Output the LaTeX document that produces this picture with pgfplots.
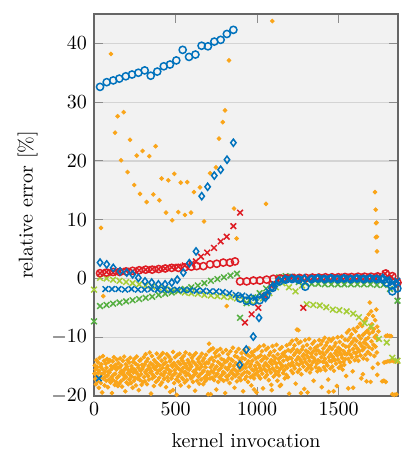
\documentclass[border=0pt]{standalone}
\usepackage{pgfplots}
\pgfplotsset{compat=1.18}

\definecolor{cblue}{RGB}{0,114,189}
\definecolor{cred}{RGB}{222,28,36}
\definecolor{corange}{RGB}{250,165,25}
\definecolor{cgreen}{RGB}{85,175,65}
\definecolor{cyg}{RGB}{165,205,55}
\definecolor{bgc}{RGB}{242,242,242}
\definecolor{gridc}{RGB}{212,212,212}

\pgfplotsset{
  dots/.style={color=corange, only marks, mark=*, mark size=0.95pt, mark options={draw=none, fill=corange}},
  circ/.style={color=#1, only marks, mark=o, mark size=1.8pt, mark options={line width=0.75pt, draw=#1}},
  diam/.style={color=#1, only marks, mark=diamond, mark size=1.8pt, mark options={line width=0.75pt, draw=#1}},
  crs/.style={color=#1, only marks, mark=x, mark size=2.0pt, mark options={line width=0.75pt, draw=#1}},
}

\begin{document}
\begin{tikzpicture}
\useasboundingbox (-47pt,-31pt) rectangle (154.5pt,198pt);
\begin{axis}[
  scale only axis, width=152pt, height=191pt,
  xmin=0, xmax=1865, ymin=-20, ymax=45,
  xtick={0,500,1000,1500}, ytick={-20,-10,...,40},
  /pgf/number format/1000 sep={},
  axis background/.style={fill=bgc},
  ymajorgrids, major grid style={gridc, line width=0.6pt},
  tick style={black!45, line width=0.5pt},
  axis line style={black!60, line width=0.6pt},
  tick align=inside,
  xlabel={kernel invocation}, ylabel={relative error [\%]},
  xlabel style={yshift=-2pt},
]

% per-invocation error of the sampled kernel
\addplot[dots] coordinates {
(3,-16.2) (5,-14.8) (8,-17.1) (10,-15.5) (12,-18.0) (15,-13.9) (17,-16.6) (20,-15.1) (22,-17.5) (25,-14.3)
(27,-16.0) (30,-18.6) (32,-15.7) (35,-13.5) (37,-16.9) (40,-15.0) (42,-17.8) (45,-14.6) (47,-16.3) (50,-19.4)
(52,-15.4) (55,-13.2) (57,-17.0) (60,-16.1) (62,-14.0) (65,-18.2) (67,-15.8) (70,-16.7) (72,-14.5) (75,-17.4)
(77,-15.2) (80,-13.7) (82,-16.5) (85,-18.5) (87,-15.9) (90,-14.2) (92,-17.2) (95,-16.0) (97,-13.9) (100,-15.6)
(102,-17.7) (105,-14.9) (107,-16.8) (110,-19.5) (112,-15.3) (115,-14.1) (117,-17.3) (120,-16.4) (122,-13.4) (125,-15.0)
(127,-18.1) (130,-16.2) (132,-14.7) (135,-17.6) (137,-15.5) (140,-13.8) (142,-16.9) (145,-15.2) (147,-18.3) (150,-14.4)
(152,-16.6) (155,-17.9) (157,-15.1) (160,-13.6) (162,-16.0) (165,-17.5) (167,-14.8) (170,-15.7) (172,-18.4) (175,-16.3)
(177,-14.0) (180,-15.9) (182,-17.1) (185,-13.3) (187,-16.5) (190,-15.4) (192,-19.2) (195,-14.6) (197,-16.8) (200,-17.7)
(202,-15.0) (205,-13.9) (207,-16.1) (210,-18.0) (212,-15.6) (215,-14.3) (217,-17.2) (220,-16.4) (222,-13.5) (225,-15.8)
(227,-17.8) (230,-14.9) (232,-16.7) (235,-15.3) (237,-18.6) (240,-14.2) (242,-16.0) (245,-17.4) (247,-13.7) (250,-15.5)
(252,-16.9) (255,-14.5) (257,-18.2) (260,-15.9) (262,-13.3) (265,-16.2) (267,-17.0) (270,-14.8) (272,-15.2) (275,-19.0)
(277,-16.6) (280,-14.0) (282,-17.3) (285,-15.7) (287,-13.8) (290,-16.3) (292,-18.1) (295,-14.7) (297,-15.4) (300,-17.6)
(302,-15.0) (305,-13.4) (307,-16.8) (310,-14.6) (312,-17.5) (315,-15.9) (317,-12.9) (320,-16.2) (322,-14.1) (325,-18.0)
(327,-15.5) (330,-13.7) (332,-16.6) (335,-14.9) (337,-17.2) (340,-15.3) (342,-12.6) (345,-16.0) (347,-14.4) (350,-19.6)
(352,-15.8) (355,-13.2) (357,-17.0) (360,-14.7) (362,-16.4) (365,-15.1) (367,-18.3) (370,-13.9) (372,-16.7) (375,-15.4)
(377,-14.2) (380,-17.6) (382,-15.0) (385,-12.8) (387,-16.1) (390,-14.5) (392,-17.3) (395,-15.7) (397,-13.5) (400,-16.9)
(402,-14.8) (405,-15.6) (407,-18.1) (410,-13.1) (412,-16.3) (415,-14.0) (417,-17.7) (420,-15.2) (422,-12.7) (425,-16.5)
(427,-14.6) (430,-17.1) (432,-15.9) (435,-13.6) (437,-16.0) (440,-14.3) (442,-18.5) (445,-15.3) (447,-12.9) (450,-16.8)
(452,-14.9) (455,-17.4) (457,-15.5) (460,-13.3) (462,-16.2) (465,-14.1) (467,-19.3) (470,-15.8) (472,-13.8) (475,-17.0)
(477,-14.7) (480,-16.6) (482,-15.0) (485,-12.5) (487,-16.4) (490,-14.4) (492,-17.8) (495,-15.6) (497,-13.4) (500,-16.1)
(502,-14.8) (505,-17.2) (507,-19.8) (510,-15.1) (512,-13.0) (515,-16.7) (517,-14.2) (520,-17.5) (522,-15.4) (525,-12.8)
(527,-16.3) (530,-14.6) (532,-18.2) (535,-15.7) (537,-13.6) (540,-16.9) (542,-14.0) (545,-17.1) (547,-15.2) (550,-13.2)
(552,-16.0) (555,-14.5) (557,-17.7) (560,-15.9) (562,-12.6) (565,-16.5) (567,-14.9) (570,-17.3) (572,-15.3) (575,-13.9)
(577,-16.2) (580,-14.3) (582,-18.4) (585,-15.5) (587,-12.9) (590,-16.6) (592,-14.7) (595,-17.0) (597,-15.0) (600,-13.5)
(602,-16.8) (605,-14.1) (607,-17.6) (610,-15.8) (612,-13.1) (615,-16.4) (617,-14.4) (620,-19.1) (622,-15.6) (625,-12.7)
(627,-16.1) (630,-14.8) (632,-17.4) (635,-15.2) (637,-13.7) (640,-16.7) (642,-14.2) (645,-17.9) (647,-15.4) (650,-13.3)
(652,-16.3) (655,-14.6) (657,-17.2) (660,-15.0) (662,-12.8) (665,-16.0) (667,-14.0) (670,-18.0) (672,-15.7) (675,-13.6)
(677,-16.9) (680,-14.5) (682,-17.5) (685,-15.1) (687,-13.0) (690,-16.5) (692,-14.3) (695,-17.1) (697,-15.9) (700,-19.7)
(702,-14.4) (705,-12.4) (707,-16.3) (710,-13.8) (712,-17.0) (715,-15.1) (717,-12.1) (720,-15.8) (722,-13.5) (725,-16.9)
(727,-14.7) (730,-11.9) (732,-16.0) (735,-14.0) (737,-17.3) (740,-15.4) (742,-12.7) (745,-16.6) (747,-13.3) (750,-18.9)
(752,-15.0) (755,-12.3) (757,-16.2) (760,-14.2) (762,-17.6) (765,-15.6) (767,-13.1) (770,-16.8) (772,-14.5) (775,-12.0)
(777,-15.3) (780,-17.1) (782,-13.7) (785,-16.4) (787,-14.8) (790,-12.6) (792,-15.9) (795,-17.4) (797,-13.9) (800,-16.1)
(802,-14.3) (805,-19.5) (807,-15.2) (810,-12.2) (812,-16.7) (815,-14.1) (817,-17.2) (820,-15.5) (822,-12.9) (825,-16.5)
(827,-13.6) (830,-15.0) (832,-17.8) (835,-14.6) (837,-12.4) (840,-16.0) (842,-13.8) (845,-15.7) (847,-17.0) (850,-14.0)
(852,-11.8) (855,-16.3) (857,-14.9) (860,-15.4) (862,-18.6) (865,-13.2) (867,-16.6) (870,-14.4) (872,-12.5) (875,-15.8)
(877,-17.5) (880,-13.4) (882,-16.2) (885,-14.7) (887,-12.0) (890,-15.1) (892,-16.9) (895,-13.9) (897,-15.6) (900,-17.3)
(902,-14.2) (905,-12.7) (907,-16.4) (910,-13.5) (912,-15.3) (915,-19.2) (917,-14.8) (920,-12.2) (922,-16.0) (925,-13.7)
(927,-17.1) (930,-15.2) (932,-12.8) (935,-16.7) (937,-14.5) (940,-15.9) (942,-13.0) (945,-17.6) (947,-14.1) (950,-11.9)
(952,-16.1) (955,-15.0) (957,-13.3) (960,-16.8) (962,-14.6) (965,-18.2) (967,-12.6) (970,-15.5) (972,-14.0) (975,-16.5)
(977,-13.1) (980,-15.7) (982,-17.0) (985,-12.3) (987,-14.9) (990,-16.3) (992,-13.6) (995,-15.4) (997,-19.4) (1000,-14.3)
(1002,-12.0) (1005,-15.9) (1007,-13.4) (1010,-16.6) (1012,-14.7) (1015,-11.6) (1017,-15.2) (1020,-17.0) (1022,-13.1) (1025,-15.6)
(1027,-14.0) (1030,-12.4) (1032,-16.2) (1035,-13.8) (1037,-18.7) (1040,-14.9) (1042,-11.4) (1045,-15.4) (1047,-13.3) (1050,-16.8)
(1052,-14.4) (1055,-12.1) (1057,-15.8) (1060,-13.6) (1062,-16.4) (1065,-14.8) (1067,-11.8) (1070,-15.0) (1072,-17.3) (1075,-13.0)
(1077,-15.5) (1080,-14.2) (1082,-12.6) (1085,-16.0) (1087,-13.9) (1090,-19.0) (1092,-14.6) (1095,-11.5) (1097,-15.3) (1100,-13.2)
(1102,-16.7) (1105,-14.1) (1107,-12.3) (1110,-15.7) (1112,-13.5) (1115,-16.3) (1117,-14.5) (1120,-11.3) (1122,-15.1) (1125,-17.4)
(1127,-12.9) (1130,-15.9) (1132,-13.7) (1135,-16.5) (1137,-14.3) (1140,-12.0) (1142,-15.4) (1145,-13.4) (1147,-18.1) (1150,-14.7)
(1152,-11.7) (1155,-15.0) (1157,-12.8) (1160,-16.1) (1162,-14.0) (1165,-13.1) (1167,-15.6) (1170,-17.0) (1172,-12.5) (1175,-14.9)
(1177,-13.3) (1180,-16.4) (1182,-11.4) (1185,-15.2) (1187,-13.8) (1190,-16.8) (1192,-12.2) (1195,-14.6) (1197,-19.6) (1200,-13.5)
(1202,-11.1) (1205,-14.8) (1207,-12.4) (1210,-15.7) (1212,-13.6) (1215,-10.6) (1217,-14.3) (1220,-16.1) (1222,-12.0) (1225,-14.9)
(1227,-13.0) (1230,-11.4) (1232,-15.3) (1235,-12.7) (1237,-17.9) (1240,-13.9) (1242,-10.4) (1245,-14.5) (1247,-12.2) (1250,-15.9)
(1252,-13.4) (1255,-11.0) (1257,-14.7) (1260,-12.6) (1262,-15.5) (1265,-13.8) (1267,-10.8) (1270,-14.1) (1272,-16.3) (1275,-12.1)
(1277,-14.4) (1280,-13.2) (1282,-11.6) (1285,-15.0) (1287,-12.9) (1290,-18.8) (1292,-13.7) (1295,-10.5) (1297,-14.2) (1300,-12.3)
(1302,-15.6) (1305,-13.1) (1307,-11.3) (1310,-14.6) (1312,-12.5) (1315,-15.2) (1317,-13.5) (1320,-10.3) (1322,-14.0) (1325,-16.0)
(1327,-11.9) (1330,-14.8) (1332,-12.8) (1335,-15.4) (1337,-13.3) (1340,-11.1) (1342,-14.3) (1345,-12.4) (1347,-17.4) (1350,-13.6)
(1352,-10.7) (1355,-14.0) (1357,-11.8) (1360,-15.1) (1362,-12.9) (1365,-12.2) (1367,-14.5) (1370,-15.8) (1372,-11.5) (1375,-13.9)
(1377,-12.3) (1380,-15.3) (1382,-10.5) (1385,-14.1) (1387,-12.7) (1390,-15.6) (1392,-11.2) (1395,-13.4) (1397,-18.5) (1400,-12.6)
(1402,-10.6) (1405,-14.2) (1407,-11.9) (1410,-15.1) (1412,-13.0) (1415,-10.1) (1417,-13.7) (1420,-15.6) (1422,-11.4) (1425,-14.4)
(1427,-12.5) (1430,-10.9) (1432,-14.8) (1435,-12.2) (1437,-17.2) (1440,-13.4) (1442,-10.3) (1445,-14.0) (1447,-11.7) (1450,-15.3)
(1452,-12.9) (1455,-10.6) (1457,-14.1) (1460,-12.0) (1462,-15.0) (1465,-13.3) (1467,-10.2) (1470,-13.6) (1472,-15.7) (1475,-11.5)
(1477,-13.9) (1480,-12.7) (1482,-11.0) (1485,-14.5) (1487,-12.3) (1490,-18.3) (1492,-13.1) (1495,-10.0) (1497,-13.8) (1500,-11.8)
(1502,-15.2) (1505,-12.6) (1507,-10.8) (1510,-14.3) (1512,-12.1) (1515,-14.9) (1517,-13.0) (1520,-9.9) (1522,-13.5) (1525,-15.5)
(1527,-11.3) (1530,-14.2) (1532,-12.4) (1535,-14.7) (1537,-12.8) (1540,-10.4) (1542,-13.7) (1545,-11.6) (1547,-16.6) (1550,-12.9)
(1552,-9.2) (1555,-12.8) (1557,-10.5) (1560,-13.7) (1562,-11.6) (1565,-8.8) (1567,-12.3) (1570,-14.2) (1572,-10.0) (1575,-13.0)
(1577,-11.1) (1580,-9.5) (1582,-13.4) (1585,-10.8) (1587,-15.8) (1590,-12.0) (1592,-8.6) (1595,-12.6) (1597,-10.3) (1600,-13.9)
(1602,-11.4) (1605,-9.0) (1607,-12.7) (1610,-10.6) (1612,-13.3) (1615,-11.9) (1617,-8.3) (1620,-12.1) (1622,-14.0) (1625,-9.8)
(1627,-12.4) (1630,-11.0) (1632,-7.7) (1635,-13.1) (1637,-10.2) (1640,-17.0) (1642,-11.5) (1645,-8.1) (1647,-12.2) (1650,-9.6)
(1652,-13.6) (1655,-10.9) (1657,-7.3) (1660,-11.8) (1662,-9.3) (1665,-13.0) (1667,-10.4) (1670,-6.8) (1672,-11.2) (1675,-13.8)
(1677,-8.9) (1680,-12.5) (1682,-10.1) (1685,-6.1) (1687,-11.7) (1690,-9.4) (1692,-4.1) (1695,-12.9) (1697,-8.4) (1700,-5.6)
(1702,-10.7) (1705,-7.8) (1707,-12.0) (1710,-9.1) (1712,-6.4) (1715,-11.3) (1717,-8.6) (1720,-13.2) (1722,-10.0) (1725,-7.1)
(1727,-11.6) (1730,-9.7) (1732,-5.3) (1735,-12.6) (1737,-8.2) (1740,-10.4) (1742,-14.5) (1745,-9.0)
(1697,-17.6) (1710,-15.2) (1738,-16.4) (1650,-16.3) (1672,-17.5) (1560,-18.7) (1590,-18.6) (1440,-19.3) (1470,-19.2)
(1270,-19.5) (1310,-19.4) (1088,-18.1) (1140,-18.3) (982,-18.9) (716,-19.7) (485,-19.0)
(1768,-17.5) (1778,-17.4) (1790,-17.6) (1780,-14.3) (1792,-14.2)
(1790,-9.8) (1800,-9.7) (1812,-9.8) (1822,-9.8)
(1803,-14.1) (1815,-14.1) (1828,-14.0) (1840,-14.1) (1852,-14.1) (1862,-14.1)
(1830,-19.7) (1842,-19.8) (1855,-19.7)
(706,-11.1) (1245,-8.7) (1254,-8.8) (814,-4.7) (57,-3.0) (43,8.6)
(104,38.2) (129,24.8) (145,27.6) (166,20.1) (182,28.3) (206,18.1) (221,23.6) (247,15.9) (262,20.9) (282,14.4)
(298,21.7) (323,13.0) (339,20.8) (364,14.3) (378,22.5) (401,13.3) (415,17.0) (442,11.2) (456,16.7) (480,9.9)
(493,17.8) (517,11.3) (532,16.3) (558,10.8) (572,16.4) (595,11.2) (613,14.7) (650,15.5) (675,9.7) (712,17.9)
(748,18.9) (767,23.8) (790,26.6) (804,28.6) (828,37.1) (859,11.9) (875,6.8) (1055,12.7) (1094,43.8)
(1724,14.7) (1728,11.7) (1730,9.4) (1734,9.5) (1729,7.0) (1735,7.1) (1736,4.6)
};

% yellow-green crosses
\addplot[crs=cyg] coordinates {
(0,-1.9) (37,0.1) (77,0.0) (117,-0.2) (157,-0.4) (197,-0.6) (237,-0.8) (277,-1.0) (317,-1.2) (357,-1.4)
(397,-1.6) (437,-1.8) (477,-2.0) (517,-2.2) (557,-2.4) (597,-2.5) (637,-2.6) (677,-2.8) (717,-2.9) (757,-3.0)
(797,-3.1) (837,-3.2) (877,-3.4)
(916,-3.6) (956,-3.8) (996,-3.9) (1036,-3.4) (1076,-2.5) (1116,-1.5) (1156,-0.8) (1196,-1.5) (1236,-2.2) (1276,-1.2)
(1305,-4.4) (1345,-4.5) (1385,-4.6) (1425,-4.9) (1465,-5.3) (1505,-5.4) (1550,-5.6) (1590,-6.0) (1625,-6.6) (1660,-7.6)
(1700,-8.2) (1748,-10.3) (1796,-10.9) (1830,-13.5) (1862,-14.0)
};

% green crosses
\addplot[crs=cgreen] coordinates {
(0,-7.3) (37,-4.7) (77,-4.5) (117,-4.3) (157,-4.1) (197,-3.9) (237,-3.7) (277,-3.5) (317,-3.3) (357,-3.1)
(397,-2.8) (437,-2.6) (477,-2.4) (517,-2.1) (557,-1.8) (597,-1.5) (637,-1.2) (677,-0.8) (717,-0.4) (757,-0.1)
(797,0.2) (837,0.5) (877,0.8)
(896,-6.7) (936,-4.2) (976,-3.2) (1016,-2.5) (1056,-1.7) (1096,-0.9) (1136,0.2) (1176,0.4) (1216,0.3) (1256,-0.6)
(1296,-0.8) (1336,-0.9) (1376,-0.9) (1416,-1.0) (1456,-1.0) (1496,-1.0) (1536,-1.0) (1576,-1.0) (1616,-1.0) (1656,-1.0)
(1696,-1.0) (1736,-1.1) (1776,-1.1) (1816,-1.8) (1862,-3.8)
};

% red crosses
\addplot[crs=cred] coordinates {
(37,0.9) (77,1.1) (117,1.0) (157,1.2) (197,1.3) (237,1.2) (277,1.4) (317,1.5) (357,1.6) (397,1.6)
(437,1.7) (477,1.9) (517,2.0) (557,2.2) (597,2.5) (625,2.9) (656,3.7) (695,4.4) (736,5.2) (777,6.3)
(814,7.1) (855,8.9) (896,11.2)
(926,-7.5) (967,-6.1) (1008,-5.0) (1048,-3.0) (1088,-1.3) (1128,-0.3) (1168,0.1) (1208,0.1) (1248,0.1) (1284,-5.0)
(1305,0.1) (1345,0.2) (1385,0.2) (1425,0.2) (1465,0.2) (1505,0.3) (1545,0.3) (1585,0.3) (1625,0.3) (1665,0.3)
(1705,0.3) (1745,0.4) (1785,0.8) (1825,0.3) (1860,-0.5)
};

% red circles
\addplot[circ=cred] coordinates {
(37,0.9) (77,1.0) (117,1.1) (157,1.1) (197,1.2) (237,1.3) (277,1.4) (317,1.5) (357,1.5) (397,1.6)
(437,1.7) (477,1.8) (517,1.8) (557,1.9) (597,2.0) (630,2.1) (671,2.1) (712,2.4) (753,2.5) (793,2.7)
(834,2.7) (865,2.9)
(896,-0.5) (937,-0.5) (978,-0.35) (1018,-0.35) (1059,-0.2) (1100,-0.05) (1140,0.0) (1180,0.05) (1220,0.1) (1260,0.1)
(1300,0.1) (1340,0.15) (1380,0.15) (1420,0.2) (1460,0.2) (1500,0.2) (1540,0.25) (1580,0.25) (1620,0.3) (1660,0.3)
(1700,0.3) (1740,0.35) (1790,0.85) (1830,0.4) (1862,-0.7)
};

% blue crosses
\addplot[crs=cblue] coordinates {
(30,-17.0) (70,-1.8) (110,-1.8) (150,-1.8) (190,-1.9) (230,-1.8) (270,-1.9) (310,-1.9) (350,-1.8) (390,-1.9)
(430,-1.9) (470,-2.0) (510,-1.9) (550,-2.0) (590,-2.0) (630,-2.1) (670,-2.1) (710,-2.2) (750,-2.2) (790,-2.3)
(830,-2.5) (870,-2.8) (910,-2.9)
(950,-3.1) (990,-3.3) (1030,-3.0) (1070,-2.2) (1110,-1.0) (1150,-0.3) (1190,-0.1) (1230,0.0) (1270,0.0) (1310,-0.1)
(1350,0.0) (1390,0.0) (1430,-0.1) (1470,0.0) (1510,0.0) (1550,-0.1) (1590,0.0) (1630,0.0) (1670,-0.1) (1710,0.0)
(1750,0.0) (1790,-0.2) (1830,-0.8) (1860,-0.4)
};

% blue diamonds
\addplot[diam=cblue] coordinates {
(37,2.7) (78,2.4) (118,1.8) (160,1.2) (201,1.0) (237,0.7) (272,0.1) (313,-0.5) (354,-0.7) (395,-1.0)
(436,-1.0) (477,-0.7) (511,-0.2) (548,1.0) (585,2.6) (626,4.6) (661,14.0) (697,15.6) (738,17.5) (777,18.5)
(816,20.2) (855,23.1)
(894,-14.7) (934,-12.1) (977,-9.9) (1012,-6.7) (1052,-3.3) (1092,-1.5) (1132,-0.4) (1172,-0.1) (1212,0.0) (1252,-0.1)
(1292,0.0) (1332,-0.1) (1372,0.0) (1412,-0.1) (1452,0.0) (1492,-0.1) (1532,0.0) (1572,-0.1) (1612,0.0) (1652,-0.1)
(1692,0.0) (1732,-0.1) (1772,0.1) (1812,-0.4) (1852,-0.9)
};

% blue circles
\addplot[circ=cblue] coordinates {
(37,32.6) (78,33.4) (118,33.7) (155,34.0) (195,34.4) (233,34.7) (272,35.0) (311,35.4) (348,34.5) (388,35.2)
(428,36.1) (466,36.4) (505,37.1) (544,38.9) (583,37.7) (622,38.1) (660,39.6) (699,39.5) (738,40.3) (777,40.6)
(815,41.6) (855,42.3)
(896,-3.4) (936,-3.8) (976,-3.9) (1016,-3.7) (1056,-2.9) (1096,-1.6) (1136,-0.5) (1176,-0.2) (1216,-0.1) (1256,-0.2)
(1296,-1.4) (1336,-0.1) (1376,0.0) (1416,-0.1) (1456,0.0) (1496,-0.1) (1536,0.0) (1576,-0.1) (1616,0.0) (1656,-0.1)
(1696,0.0) (1736,-0.1) (1776,-0.2) (1796,-0.7) (1826,-1.2) (1830,-2.2) (1861,-1.7)
};
\end{axis}
\end{tikzpicture}
\end{document}
